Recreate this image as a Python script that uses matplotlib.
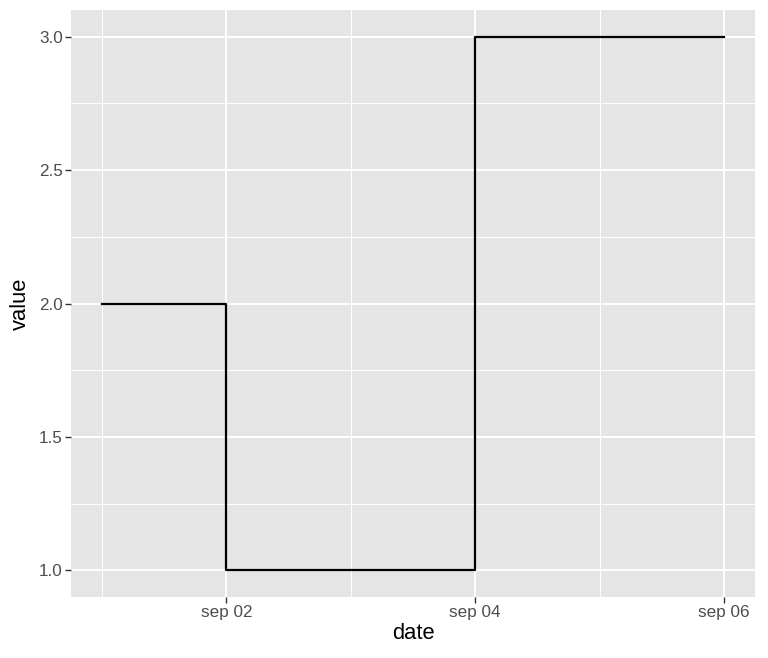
import matplotlib
matplotlib.use("Agg")
import matplotlib.pyplot as plt
import pandas as pd

plt.rcParams['font.family'] = ['Liberation Sans', 'DejaVu Sans']

# data
dates = pd.to_datetime(['2023-09-01', '2023-09-02', '2023-09-03',
                        '2023-09-04', '2023-09-05', '2023-09-06'])
values = [2, 1, 1, 3, 3, 3]
y_ticks = [1.0, 1.5, 2.0, 2.5, 3.0]
y_minor = [1.25, 1.75, 2.25, 2.75]
x_ticks = pd.to_datetime(['2023-09-02', '2023-09-04', '2023-09-06'])
x_minor = pd.to_datetime(['2023-09-01', '2023-09-03', '2023-09-05'])
x_labels = ['sep 02', 'sep 04', 'sep 06']

fig = plt.figure(figsize=(7.68, 6.58), dpi=100)
ax = fig.add_axes([71 / 768, 61 / 658, 684 / 768, 587 / 658])
ax.set_facecolor('#E5E5E5')

ax.step(dates, values, where='post', color='black', linewidth=1.6, zorder=3)

# limits with ggplot-style expansion
span = dates[-1] - dates[0]
ax.set_xlim(dates[0] - span * 0.05, dates[-1] + span * 0.05)
ymin, ymax = min(values), max(values)
pad = (ymax - ymin) * 0.05
ax.set_ylim(ymin - pad, ymax + pad)

ax.set_xticks(x_ticks)
ax.set_xticklabels(x_labels)
ax.set_xticks(x_minor, minor=True)
ax.set_yticks(y_ticks)
ax.set_yticklabels(['%.1f' % v for v in y_ticks])
ax.set_yticks(y_minor, minor=True)

ax.grid(which='major', color='white', linewidth=1.4, zorder=1)
ax.grid(which='minor', color='white', linewidth=0.7, zorder=1)
ax.set_axisbelow(True)

for s in ax.spines.values():
    s.set_visible(False)

ax.tick_params(which='major', length=4, width=1, color='#333333',
               labelcolor='#4D4D4D', labelsize=12.3, pad=2)
ax.tick_params(which='minor', length=0)

ax.set_xlabel('date', fontsize=15.8, color='black', labelpad=2)
ax.set_ylabel('value', fontsize=15.8, color='black', labelpad=6)

fig.savefig('out.png', dpi=100)
